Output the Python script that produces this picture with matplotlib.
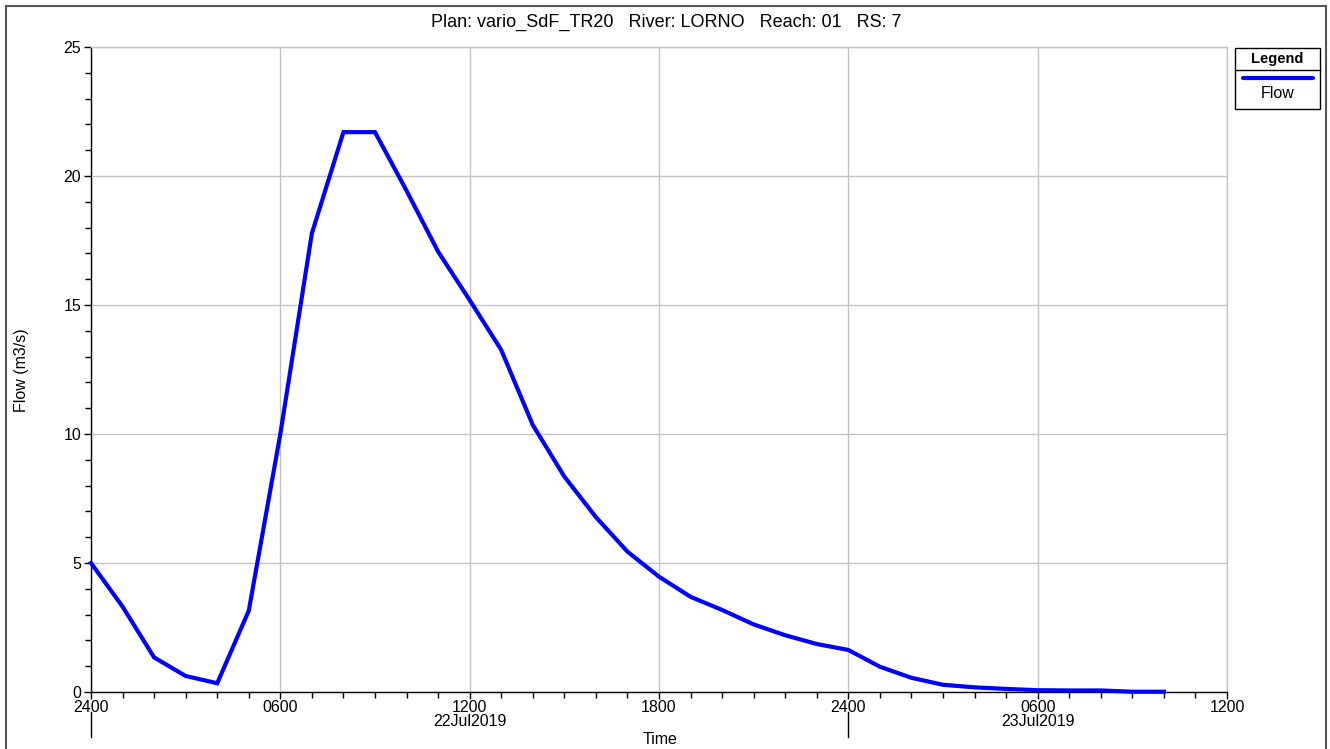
import matplotlib
matplotlib.use("Agg")
import matplotlib.pyplot as plt
from matplotlib.patches import Rectangle
from matplotlib.lines import Line2D
from matplotlib.ticker import MultipleLocator, FuncFormatter

plt.rcParams['font.family'] = ['Liberation Sans', 'DejaVu Sans']

# Hours since 22Jul2019 00:00 (hourly output)
hours = [0, 1, 2, 3, 4, 5, 6, 7, 8, 9, 10, 11, 12, 13, 14, 15, 16, 17,
         18, 19, 20, 21, 22, 23, 24, 25, 26, 27, 28, 29, 30, 31, 32, 33, 34]
flow = [5.0, 3.31, 1.34, 0.62, 0.34, 3.15, 10.0, 17.78, 21.7, 21.7, 19.43,
        17.07, 15.19, 13.26, 10.35, 8.35, 6.78, 5.44, 4.47, 3.69, 3.18,
        2.62, 2.2, 1.86, 1.63, 0.98, 0.55, 0.28, 0.18, 0.12, 0.07, 0.06,
        0.06, 0.01, 0.01]

series_name = "Flow"
title = "Plan: vario_SdF_TR20   River: LORNO   Reach: 01   RS: 7"
day_labels = {12: "22Jul2019", 30: "23Jul2019"}
day_breaks = [0, 24]

W, H = 1330, 749
fig = plt.figure(figsize=(W / 100, H / 100), dpi=100)
ax = fig.add_axes([91 / W, 1 - 692 / H, (1227 - 91) / W, (692 - 47) / H])

ax.plot(hours, flow, color="#0000ff", lw=3.0, solid_joinstyle="miter",
        zorder=3, clip_on=False)

ax.set_xlim(0, 36)
ax.set_ylim(0, 25)

ax.xaxis.set_major_locator(MultipleLocator(6))
ax.xaxis.set_minor_locator(MultipleLocator(1))
ax.yaxis.set_major_locator(MultipleLocator(5))
ax.yaxis.set_minor_locator(MultipleLocator(1))


def hhmm(x, pos):
    h = int(round(x)) % 24
    if h == 0:
        h = 24
    return f"{h:02d}00"


ax.xaxis.set_major_formatter(FuncFormatter(hhmm))

ax.tick_params(axis="both", which="major", length=5, width=1, color="black",
               labelsize=11.5, direction="out")
ax.tick_params(axis="both", which="minor", length=4, width=1, color="black",
               direction="out")
ax.tick_params(axis="x", pad=1)
ax.tick_params(axis="y", pad=2)

ax.grid(True, which="major", color="#c4c4c4", lw=1.0)
ax.set_axisbelow(True)
for side in ("top", "right"):
    ax.spines[side].set_color("#c4c4c4")
    ax.spines[side].set_linewidth(1.0)
for side in ("left", "bottom"):
    ax.spines[side].set_color("black")
    ax.spines[side].set_linewidth(1.0)

# date labels and day separators under the time axis
for x, lab in day_labels.items():
    ax.annotate(lab, xy=(x, 0), xycoords=("data", "axes fraction"),
                xytext=(0, -16), textcoords="offset points",
                ha="center", va="top", fontsize=11.5)
for x in day_breaks:
    ax.plot([x, x], [-0.031, -0.069], transform=ax.get_xaxis_transform(),
            color="black", lw=1.0, clip_on=False)

fig.text(660 / W, 1 - 740 / H, "Time", ha="center", va="center", fontsize=11.5)
fig.text(22 / W, 1 - 370 / H, "Flow (m3/s)", ha="center", va="center",
         rotation=90, fontsize=11.5)

fig.text(666 / W, 1 - 22 / H, title, ha="center", va="center", fontsize=13)

# outer frame
fig.add_artist(Rectangle((6 / W, -0.01), (1326 - 6) / W, 1 - 6 / H + 0.01,
                         transform=fig.transFigure, fill=False,
                         edgecolor="#555555", lw=1.5))

# legend box
lx0, lx1, ly0, ly1 = 1235, 1320, 48, 109
fig.add_artist(Rectangle((lx0 / W, 1 - ly1 / H), (lx1 - lx0) / W, (ly1 - ly0) / H,
                         transform=fig.transFigure, fill=True, facecolor="white",
                         edgecolor="black", lw=1.0))
fig.add_artist(Line2D([lx0 / W, lx1 / W], [1 - 70 / H, 1 - 70 / H],
                      transform=fig.transFigure, color="black", lw=1.0))
fig.text((lx0 + lx1) / 2 / W, 1 - 59 / H, "Legend", ha="center", va="center",
         fontsize=10.5, fontweight="bold")
fig.add_artist(Line2D([1243 / W, 1313 / W], [1 - 77.5 / H, 1 - 77.5 / H],
                      transform=fig.transFigure, color="#0000ff", lw=3.0,
                      solid_capstyle="round"))
fig.text((lx0 + lx1) / 2 / W, 1 - 93 / H, series_name, ha="center", va="center",
         fontsize=11.5)

fig.savefig("out.png", dpi=100)
